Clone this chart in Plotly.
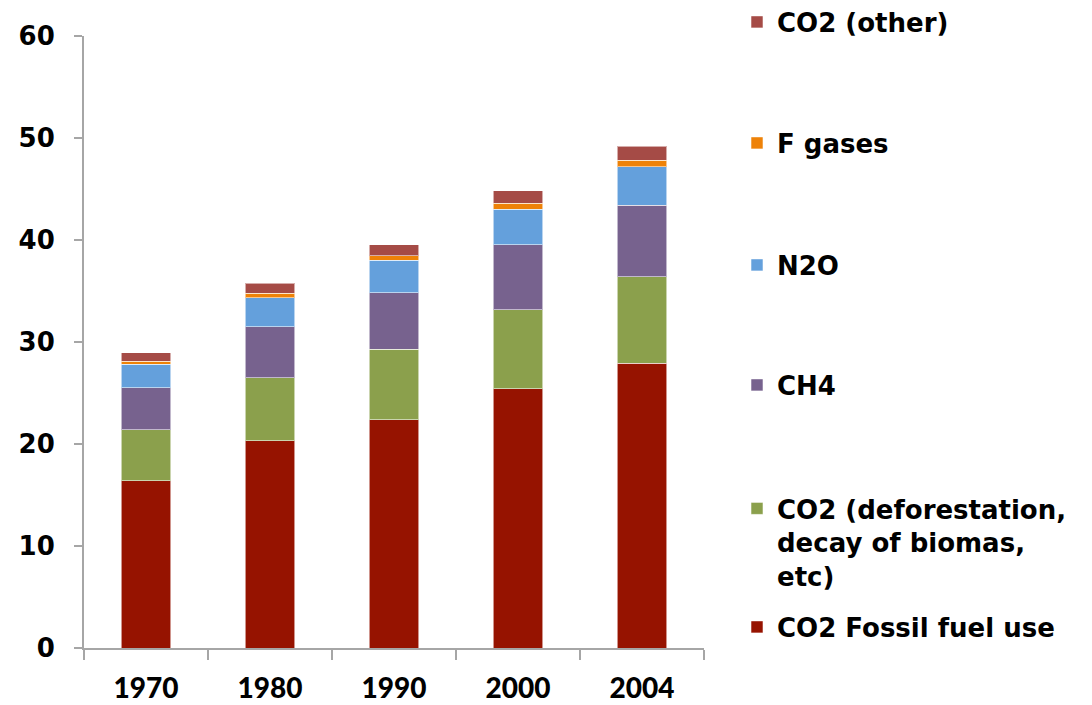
import plotly.graph_objects as go

years = ["1970", "1980", "1990", "2000", "2004"]
fossil = [16.4, 20.3, 22.4, 25.4, 27.9]
deforest = [5.0, 6.2, 6.9, 7.75, 8.5]
ch4 = [4.1, 5.0, 5.55, 6.4, 7.0]
n2o = [2.3, 2.85, 3.15, 3.45, 3.8]
fgases = [0.3, 0.45, 0.45, 0.6, 0.6]
co2_other = [0.85, 0.95, 1.1, 1.25, 1.4]

series = [
    ("CO2 Fossil fuel use", fossil, "#961300"),
    ("CO2 (deforestation,<br>decay of biomas,<br>etc)", deforest, "#8BA04C"),
    ("CH4", ch4, "#77628E"),
    ("N2O", n2o, "#64A0DC"),
    ("F gases", fgases, "#EE8208"),
    ("CO2 (other)", co2_other, "#A54B46"),
]

# legend item vertical centres (pixels from top) for the separate legends
legend_px = [627, 507, 385, 265, 143, 22]
W, H = 1092, 705
T, B = 36, 57

font_leg = "'DejaVu Sans', sans-serif"

fig = go.Figure()
layout_legends = {}
for i, (name, vals, col) in enumerate(series):
    key = "legend" if i == 0 else f"legend{i+1}"
    fig.add_trace(go.Bar(
        x=years, y=vals, name=name,
        marker=dict(color=col, line=dict(color="rgba(255,255,255,0.55)", width=1)),
        width=0.4, legend=key, showlegend=True,
    ))
    multi = "<br>" in name
    ypix = legend_px[i]
    yp = (H - ypix) / H
    layout_legends[key] = dict(
        xref="container", yref="container",
        x=737 / W, xanchor="left",
        y=yp + (22 / H if multi else 0), yanchor="top" if multi else "middle",
        valign="top" if multi else "middle",
        font=dict(family=font_leg, size=26, color="black", weight="bold"),
        bgcolor="rgba(0,0,0,0)", borderwidth=0,
        visible=True,
    )

fig.update_layout(
    barmode="stack",
    width=W, height=H,
    margin=dict(l=84, r=388, t=T, b=B, autoexpand=False),
    plot_bgcolor="white", paper_bgcolor="white",
    showlegend=True,
    **layout_legends,
)
fig.update_yaxes(
    range=[0, 60], dtick=10, showgrid=False,
    showline=True, linecolor="#A6A6A6", linewidth=2,
    ticks="outside", ticklen=8, tickcolor="#A6A6A6", tickwidth=2,
    ticklabelstandoff=14,
    tickfont=dict(family=font_leg, size=26, color="black", weight="bold"),
    zeroline=False,
)
fig.update_xaxes(
    showline=True, linecolor="#A6A6A6", linewidth=2,
    ticks="outside", ticklen=10, tickcolor="#A6A6A6", tickwidth=2,
    tickson="boundaries", ticklabelstandoff=14,
    tickfont=dict(family="Lato, sans-serif", size=28, color="black", weight=900),
)

fig.write_html(
    "out.html",
    config={"displayModeBar": False},
    post_script="document.body.style.margin='0px';document.body.style.overflow='hidden';",
)
